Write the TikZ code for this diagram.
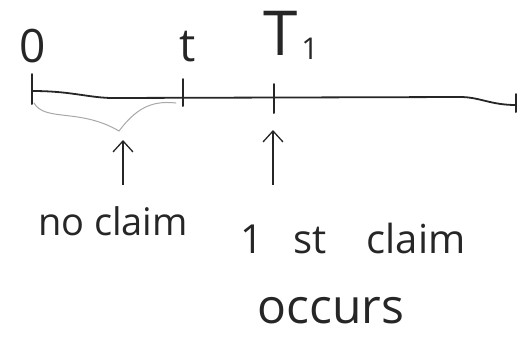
\documentclass[tikz,border=0pt]{standalone}
\usepackage{fontspec}
\setmainfont{Open Sans}
\usetikzlibrary{arrows.meta}
\definecolor{ink}{HTML}{262626}
\definecolor{pencil}{HTML}{A8A8A8}
\tikzset{
  axisline/.style={draw=ink, line width=1.8pt, line cap=round, line join=round},
  tickmark/.style={draw=ink, line width=2pt, line cap=round},
  bracecurve/.style={draw=pencil, line width=1pt, line cap=round},
  uparrow/.style={draw=ink, line width=1.5pt, -{Straight Barb[length=11pt,width=20pt,line width=1.3pt]}},
  lbl/.style={text=ink, inner sep=0pt, anchor=center}
}
\begin{document}
\begin{tikzpicture}[x=1pt,y=-1pt]
\useasboundingbox (0,0) rectangle (517,341);
% axis
\coordinate (a0) at (32,91);
\coordinate (a1) at (110,98);
\coordinate (a2) at (460,97);
\coordinate (a3) at (516,105);
\draw[axisline] (a0) .. controls (70,91) and (85,97) .. (a1) -- (a2) .. controls (480,97) and (490,105) .. (a3);
% ticks
\coordinate (k0t) at (32,74); \coordinate (k0b) at (32,104);
\coordinate (kt) at (183,79); \coordinate (ktb) at (183,106);
\coordinate (kT) at (274,84); \coordinate (kTb) at (274,113);
\coordinate (kEt) at (516,94); \coordinate (kEb) at (516,112);
\draw[tickmark] (k0t) -- (k0b);
\draw[tickmark] (kt) -- (ktb);
\draw[tickmark] (kT) -- (kTb);
\draw[tickmark] (kEt) -- (kEb);
% labels
\node[lbl, font=\fontsize{46}{46}\selectfont] (zero) at (33,46) {0};
\node[lbl, font=\fontsize{46}{46}\selectfont] (tl) at (188,47) {t};
\node[lbl, font=\fontsize{62}{62}\selectfont] (Tl) at (281,33) {T};
\node[lbl, font=\fontsize{30}{30}\selectfont] (one) at (310,49) {1};
% brace
\coordinate (b0) at (34,103);
\coordinate (bm) at (119,131);
\coordinate (b1) at (176,103);
\draw[bracecurve] (b0) .. controls (45,122) and (80,108) .. (bm)
                  .. controls (135,110) and (150,100) .. (b1);
% texts
\node[lbl, font=\fontsize{38}{38}\selectfont] (nc) at (113,221) {no claim};
\node[lbl, font=\fontsize{40}{40}\selectfont] (fc) at (353,238) {1\hspace{0.75em}st\hspace{1em}claim};
\node[lbl, font=\fontsize{48}{48}\selectfont] (oc) at (331,311) {occurs};
% arrows
\coordinate (ar1s) at (123,185); \coordinate (ar1e) at (123,140);
\coordinate (ar2s) at (273,185); \coordinate (ar2e) at (273,130);
\draw[uparrow] (ar1s) -- (ar1e);
\draw[uparrow] (ar2s) -- (ar2e);
\end{tikzpicture}
\end{document}
